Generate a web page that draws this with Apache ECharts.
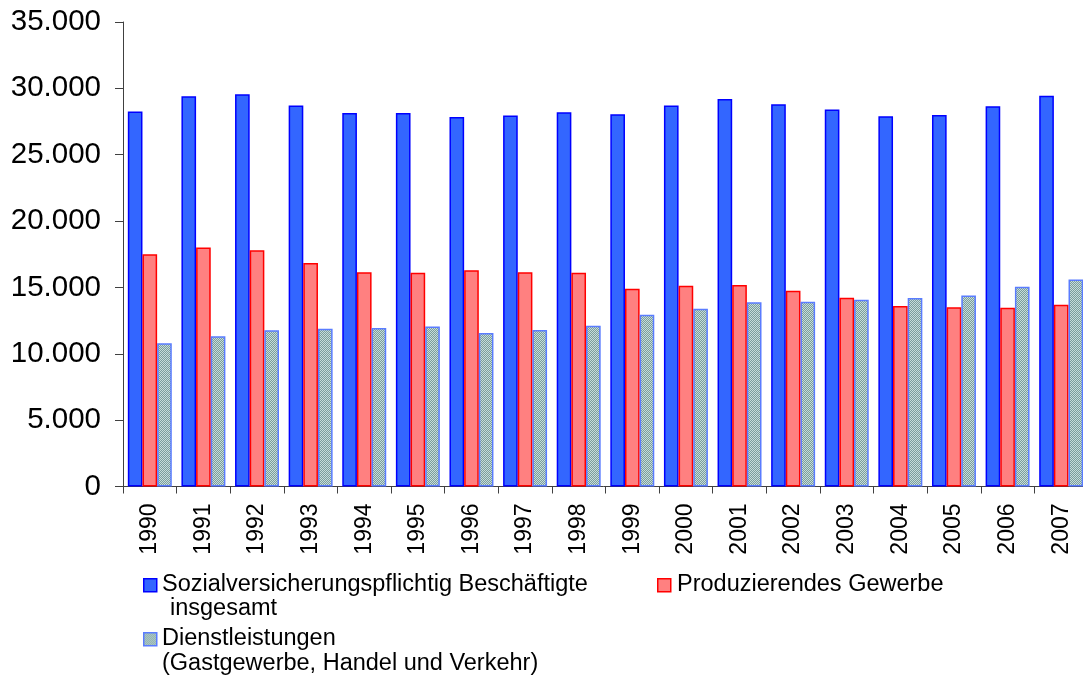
<!DOCTYPE html>
<html>
<head>
<meta charset="utf-8">
<script src="https://cdn.jsdelivr.net/npm/echarts@6/dist/echarts.min.js"></script>
<style>
html,body{margin:0;padding:0;background:#fff;}
#chart{width:1083px;height:682px;}
</style>
</head>
<body>
<div id="chart"></div>
<script>
const years = ['1990','1991','1992','1993','1994','1995','1996','1997','1998','1999','2000','2001','2002','2003','2004','2005','2006','2007'];
const gesamt = [28250,29400,29550,28700,28150,28150,27850,27950,28200,28050,28700,29200,28800,28400,27900,28000,28650,29450];
const produzierend = [17500,18000,17800,16850,16150,16100,16300,16150,16100,14900,15130,15180,14750,14230,13600,13500,13470,13700];
const dienst = [10800,11330,11770,11880,11950,12050,11570,11800,12120,12950,13400,13880,13920,14080,14200,14400,15050,15600];
const yTicks = [0,5000,10000,15000,20000,25000,30000,35000];

const names = ['Sozialversicherungspflichtig Beschäftigte insgesamt','Produzierendes Gewerbe','Dienstleistungen (Gastgewerbe, Handel und Verkehr)'];

function hatch(){
  const c = document.createElement('canvas');
  c.width = 4; c.height = 4;
  const g = c.getContext('2d');
  g.fillStyle = '#c6dcda';
  g.fillRect(0,0,4,4);
  g.fillStyle = '#7a9e9c';
  for (let i=0;i<4;i++){ g.fillRect(i,3-i,1,1); g.fillRect((i+2)%4,3-i,1,1); }
  return {image:c, repeat:'repeat'};
}
const hatchPat = hatch();

const font = '"Liberation Sans", Arial, sans-serif';
const chart = echarts.init(document.getElementById('chart'), null, {renderer:'canvas'});
const fmt = v => v === 0 ? '0' : v.toString().replace(/\B(?=(\d{3})+(?!\d))/g,'.');

chart.setOption({
  animation:false,
  textStyle:{fontFamily:font},
  grid:{left:123, top:22, width:965, bottom:195.5, containLabel:false, outerBoundsMode:'none'},
  xAxis:{
    type:'category', data:years,
    axisLine:{lineStyle:{color:'#404040', width:1}},
    axisTick:{show:true, length:7, alignWithLabel:false, lineStyle:{color:'#404040'}},
    axisLabel:{rotate:90, margin:17, fontSize:23, color:'#000', fontFamily:font, interval:0}
  },
  yAxis:{
    type:'value', min:0, max:35000, interval:5000,
    axisLine:{show:true, lineStyle:{color:'#404040', width:1}},
    axisTick:{show:true, length:8, lineStyle:{color:'#404040'}},
    splitLine:{show:false},
    axisLabel:{margin:22, fontSize:29.5, color:'#000', fontFamily:font, formatter:v=>fmt(v)}
  },
  series:[
    {name:names[0], type:'bar', data:gesamt, barGap:'0%', barCategoryGap:'18%',
     itemStyle:{color:'#3366ff', borderColor:'#0000ff', borderWidth:1.5}},
    {name:names[1], type:'bar', data:produzierend, barGap:'0%', barCategoryGap:'18%',
     itemStyle:{color:'#ff8080', borderColor:'#ff0000', borderWidth:1.5}},
    {name:names[2], type:'bar', data:dienst, barGap:'0%', barCategoryGap:'18%',
     itemStyle:{color:hatchPat, borderColor:'#5a7cff', borderWidth:1.5}}
  ],
  graphic:[
    {type:'rect', left:143, top:578, shape:{width:13, height:13}, style:{fill:'#3366ff', stroke:'#0000ff', lineWidth:1.5}},
    {type:'text', left:162, top:573, style:{text:'Sozialversicherungspflichtig Beschäftigte', font:'23.5px '+font, fill:'#000'}},
    {type:'text', left:170, top:597, style:{text:'insgesamt', font:'23.5px '+font, fill:'#000'}},
    {type:'rect', left:657, top:578, shape:{width:13, height:13}, style:{fill:'#ff8080', stroke:'#ff0000', lineWidth:1.5}},
    {type:'text', left:677, top:573, style:{text:'Produzierendes Gewerbe', font:'23.5px '+font, fill:'#000'}},
    {type:'rect', left:143, top:632, shape:{width:13, height:13}, style:{fill:hatchPat, stroke:'#5a7cff', lineWidth:1.5}},
    {type:'text', left:162, top:627, style:{text:'Dienstleistungen', font:'23.5px '+font, fill:'#000'}},
    {type:'text', left:162, top:652, style:{text:'(Gastgewerbe, Handel und Verkehr)', font:'23.5px '+font, fill:'#000'}}
  ]
});
</script>
</body>
</html>
